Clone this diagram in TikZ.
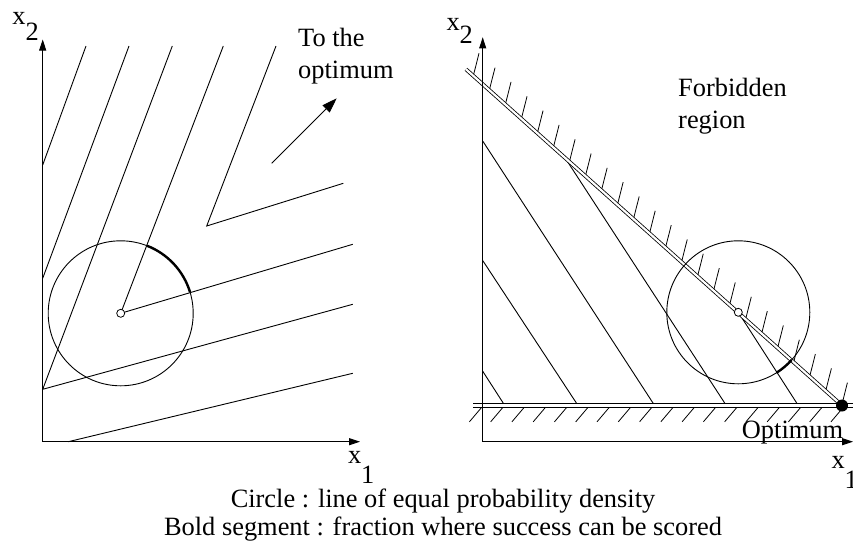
\documentclass[tikz,border=0pt]{standalone}
\usepackage{fontspec}
\setmainfont{Liberation Serif}
\usetikzlibrary{arrows.meta,calc}
\begin{document}
\begin{tikzpicture}[x=1pt,y=-1pt,
  thinline/.style={line width=0.9pt},
  axis/.style={line width=0.9pt,-{Triangle[length=11pt,width=7pt]}},
  boldarc/.style={line width=2.4pt},
  centredot/.style={circle,draw,fill=white,line width=0.8pt,minimum size=8pt,inner sep=0pt},
  optdot/.style={circle,fill=black,minimum size=12pt,inner sep=0pt},
  lbl/.style={font=\fontsize{26.4}{31.6}\selectfont,inner sep=0pt,anchor=base west},
  constraint/.style={double,double distance=2.2pt,line width=0.8pt},
  edge/.style={line width=0.8pt},
  hatch/.style={line width=0.8pt}
]
\useasboundingbox (0,0) rectangle (853,544);

% ---------------- left panel ----------------
\coordinate (O1) at (42.7,441.7);
\coordinate (Y1) at (42.7,39.5);
\coordinate (X1) at (360,441.7);
\coordinate (C1) at (120.7,313.3);
\coordinate (V3) at (42.7,389.3);
\coordinate (V5) at (206.7,226);

\draw[thinline] (42.7,165) -- (86,46);
\draw[thinline] (42.7,278.3) -- (129,46);
\draw[thinline] (172.3,46) -- (V3) -- (352.7,304.3);
\draw[thinline] (223.3,46) -- (C1) -- (352.7,244.3);
\draw[thinline] (276,46) -- (V5) -- (343.3,183.3);
\draw[thinline] (68.3,441.7) -- (352.7,373.3);

\draw[axis] (O1) -- (Y1);
\draw[axis] (O1) -- (X1);

\draw[thinline] (C1) circle[radius=72.5];
\draw[boldarc] ($(C1)+(-69:72.5)$) arc[start angle=-69,end angle=-17,radius=72.5];
\node[centredot] (c1) at (C1) {};

\coordinate (A0) at (271.7,163.3);
\coordinate (A1) at (336.7,98.3);
\draw[thinline,-{Triangle[length=15pt,width=10pt]}] (A0) -- (A1);

\node[lbl] (x2a) at (12.3,24) {x\raisebox{-16pt}{2}};
\node[lbl] (x1a) at (347.8,463.3) {x\raisebox{-20pt}{1}};
\node[lbl,align=left] (tothe) at (298,78.3) {To the\\optimum};

% ---------------- right panel ----------------
\coordinate (O2) at (482.7,441.7);
\coordinate (Y2) at (482.7,37.3);
\coordinate (X2) at (853,441.7);
\coordinate (C2) at (738.3,312.3);
\coordinate (D0) at (466,69.3);
\coordinate (Opt) at (842,405.5);
\coordinate (HA0) at (473.3,403.8);
\coordinate (HA1) at (853,403.8);
\coordinate (HB0) at (473.3,407.3);
\coordinate (HB1) at (853,407.3);

\draw[thinline] (482.7,371.2) -- (503.5,403.5);
\draw[thinline] (482.7,260.5) -- (576.7,403.5);
\draw[thinline] (482.7,141) -- (653.3,403.5);
\draw[thinline] (566,159.3) -- (725,403.5);
\draw[thinline] (C2) -- (797,403.5);

\foreach \k in {0,...,23}
  \draw[hatch] ($(473.3,75.8)!\k/23!(841.7,405.2)$) -- ++(5.7,-22.5);
\foreach \k in {0,...,17}
  \draw[hatch] ($(481.7,407.3)!\k/17!(843.3,407.3)$) -- ++(-12.3,14.5);

\draw[constraint] (D0) -- (Opt);
\draw[edge] (HA0) -- (HA1);
\draw[edge] (HB0) -- (HB1);

\draw[axis] (O2) -- (Y2);
\draw[axis] (O2) -- (X2);

\draw[thinline] (C2) circle[radius=71.5];
\draw[boldarc] ($(C2)+(41.8:71.5)$) arc[start angle=41.8,end angle=57.8,radius=71.5];
\node[centredot] (c2) at (C2) {};
\node[optdot] (opt) at (Opt) {};

\node[lbl] (x2b) at (446.3,30) {x\raisebox{-13pt}{2}};
\node[lbl] (x1b) at (831.3,468.3) {x\raisebox{-20pt}{1}};
\node[lbl,align=left] (forb) at (678,128.3) {Forbidden\\region};
\node[lbl] (optlbl) at (741.7,438.3) {Optimum};

% ---------------- caption ----------------
\node[font=\fontsize{26.4}{27.5}\selectfont,align=center,anchor=base,inner sep=0pt] (cap) at (443,535)
  {Circle : line of equal probability density\\Bold segment : fraction where success can be scored};
\end{tikzpicture}
\end{document}
